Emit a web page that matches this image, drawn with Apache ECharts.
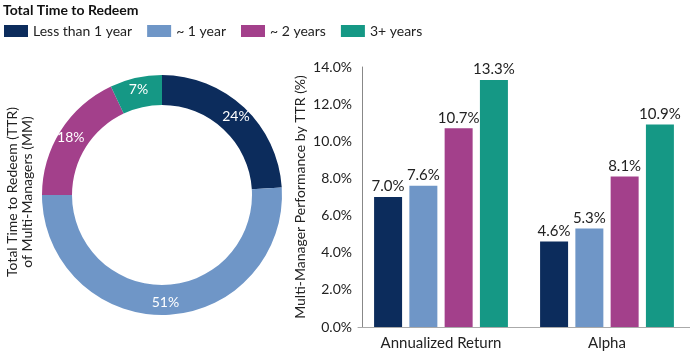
<!DOCTYPE html>
<html><head><meta charset="utf-8">
<script src="https://cdn.jsdelivr.net/npm/echarts@6/dist/echarts.min.js"></script>
<style>html,body{margin:0;padding:0;background:#fff}#c{width:690px;height:356px}</style>
</head><body><div id="c"></div>
<script>
const groups = ["Less than 1 year", "~ 1 year", "~ 2 years", "3+ years"];
const colors = ["#0c2c5c", "#6f96c7", "#a3408b", "#159885"];
const shareValues = [24, 51, 18, 7];
const barCategories = ["Annualized Return", "Alpha"];
const lessThan1 = [7.0, 4.6];
const about1 = [7.6, 5.3];
const about2 = [10.7, 8.1];
const threePlus = [13.3, 10.9];
const barValues = [lessThan1, about1, about2, threePlus];
const yTicks = { min: 0, max: 14, interval: 2 };

const FONT = "Lato";
const chart = echarts.init(document.getElementById('c'));
const barSeries = groups.map((g, i) => ({
  type: 'bar', name: g, data: barValues[i], barWidth: 28, barGap: '26%',
  itemStyle: { color: colors[i] },
  label: { show: true, position: 'top', distance: 3, fontFamily: FONT, fontSize: 15, color: '#222',
    formatter: p => p.value.toFixed(1) + '%' }
}));
chart.setOption({
  animation: false,
  textStyle: { fontFamily: FONT },
  title: { text: 'Total Time to Redeem', left: 3, top: 3, padding: 0,
    textStyle: { fontFamily: FONT, fontSize: 14, fontWeight: 'bold', color: '#111' } },
  legend: { left: 4, top: 24, padding: 0, itemWidth: 24, itemHeight: 12, itemGap: 15, data: groups,
    icon: 'rect', textStyle: { fontFamily: FONT, fontSize: 14, color: '#222' } },
  graphic: [{ type: 'text', x: 20, y: 192, rotation: Math.PI / 2,
    style: { text: 'Total Time to Redeem (TTR)\nof Multi-Managers (MM)', fontFamily: FONT, fontSize: 14,
      fill: '#222', align: 'center', verticalAlign: 'middle', lineHeight: 15 } }],
  grid: { left: 358, right: 0, top: 67, bottom: 29 },
  xAxis: { type: 'category', data: barCategories, boundaryGap: true,
    axisLine: { lineStyle: { color: '#aaa', width: 1 } }, axisTick: { show: false },
    axisLabel: { interval: 0, fontFamily: FONT, fontSize: 15, color: '#222', margin: 9 } },
  yAxis: { type: 'value', min: yTicks.min, max: yTicks.max, interval: yTicks.interval, offset: -4,
    name: 'Multi-Manager Performance by TTR (%)', nameLocation: 'middle', nameRotate: 90, nameGap: 55,
    nameTextStyle: { fontFamily: FONT, fontSize: 14, color: '#222' },
    axisLine: { show: true, lineStyle: { color: '#888' } }, axisTick: { show: false },
    splitLine: { show: false },
    axisLabel: { fontFamily: FONT, fontSize: 14, color: '#222', margin: 10, formatter: v => v.toFixed(1) + '%' } },
  series: [{
    type: 'pie', center: [162, 195], radius: [90, 120], startAngle: 90, clockwise: true,
    data: groups.map((g, i) => ({ name: g, value: shareValues[i], itemStyle: { color: colors[i] } })),
    label: { show: true, position: 'inside', color: '#fff', fontFamily: FONT, fontSize: 14,
      formatter: p => p.value + '%' },
    labelLine: { show: false }, emphasis: { disabled: true }
  }, ...barSeries]
});
</script></body></html>
